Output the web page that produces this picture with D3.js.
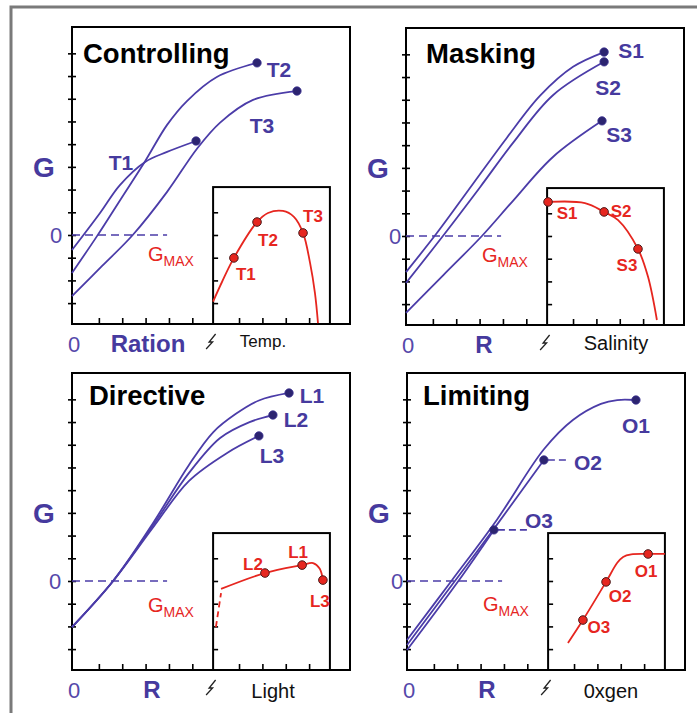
<!DOCTYPE html>
<html><head><meta charset="utf-8">
<script src="https://cdn.jsdelivr.net/npm/d3@7"></script>
<style>body{margin:0;background:#fff}svg{display:block}</style>
</head><body>
<script>
// ---------- data ----------
const yTickValues = [-3,-2,-1,0,1,2,3,4,5,6,7,8];
const xTickValues = [1.15,2.15,3.15,4.15,5.15];
const insetXTickValues = [7.15,8.15,9.15,10.15];
const insetYTickValues = [-3,-2,-1,0,1];
const panelTitles = ["Controlling","Masking","Directive","Limiting"];
const xAxisLabels = ["Ration","R","R","R"];
const insetAxisLabels = ["Temp.","Salinity","Light","0xgen"];

// Controlling (temperature)
const curveT1 = [[0,-0.66],[1.2,0.97],[2.05,2.2],[3.13,3.22],[4.07,3.66],[5.31,4.14]];
const curveT2 = [[0,-1.67],[1.07,-0.05],[2.1,1.6],[3.13,3.25],[4.07,4.85],[4.92,5.9],[6.2,6.96],[7.92,7.58]];
const curveT3 = [[0,-2.69],[1.3,-1.35],[2.6,0],[4.07,1.9],[5.35,3.8],[6.34,4.95],[7.75,5.95],[9.63,6.34]];
const tempCurve = [[6.04,-2.93],[6.42,-2.07],[6.93,-1.01],[7.92,0.57],[8.39,0.97],[9.03,1.06],[9.5,0.8],[9.89,0.09],[10.19,-1.23],[10.4,-2.56],[10.53,-3.88]];
const tempPoints = [[6.93,-1.01],[7.92,0.57],[9.89,0.09]];
const tempNames = ["T1","T2","T3"];

// Masking (salinity)
const curveS1 = [[0,-1.59],[1.33,0.14],[2.87,2.3],[4.32,4.33],[5.74,6.18],[7.15,7.45],[8.48,8.1]];
const curveS2 = [[0,-2.07],[1.58,0],[3.17,2.15],[4.58,4.1],[6.29,6.2],[8.48,7.67]];
const curveS3 = [[0,-3.39],[1.6,-1.72],[3.25,0],[4.58,1.55],[6.29,3.48],[8.39,5.07]];
const salinityCurve = [[6.08,1.5],[7.66,1.45],[8.48,1.06],[9.08,0.7],[9.93,-0.57],[10.36,-1.8],[10.74,-3.7]];
const salinityPoints = [[6.08,1.5],[8.48,1.06],[9.93,-0.57]];
const salinityNames = ["S1","S2","S3"];

// Directive (light)
const curveL1 = [[0,-2.03],[1.76,0],[3.5,2.6],[5,5.1],[6.04,6.55],[7.0,7.35],[8.0,7.95],[9.29,8.28]];
const curveL2 = [[0,-2.03],[1.76,0],[3.5,2.5],[5,4.75],[6.34,6.3],[7.6,7.0],[8.6,7.31]];
const curveL3 = [[0,-2.03],[1.76,0],[3.5,2.4],[5,4.4],[6.64,5.64],[8.0,6.39]];
const lightDashed = [[6.16,-2.03],[6.38,-0.53]];
const lightCurve = [[6.38,-0.35],[8.26,0.35],[9.85,0.7],[10.32,0.79],[10.6,0.55],[10.74,0.04]];
const lightPoints = [[8.26,0.35],[9.85,0.7],[10.74,0.04]];
const lightNames = ["L2","L1","L3"];

// Limiting (oxygen)
const curveO1 = [[0,-2.6],[1.9,0],[3.85,2.7],[5.86,5.8],[7.1,7.09],[8.3,7.8],[9.0,7.97],[9.8,7.97]];
const curveO2 = [[0,-2.82],[2.05,0],[3.9,2.55],[5.86,5.33]];
const curveO3 = [[0,-3.04],[2.2,0],[3.72,2.25]];
const oxygenCurve = [[6.89,-2.73],[7.53,-1.72],[8.52,-0.04],[9.0,0.8],[9.25,1.06],[9.6,1.17],[10.32,1.19],[11.04,1.19]];
const oxygenPoints = [[10.32,1.19],[8.52,-0.04],[7.53,-1.72]];
const oxygenNames = ["O1","O2","O3"];

// ---------- layout ----------
const W = 697, H = 713;
const PW = 278, PH = 297;
const purple = "#4b3ca8", purpleText = "#463a9e", dotFill = "#2c2470";
const red = "#e6261f";
const font = "'Liberation Sans', Arial, Helvetica, sans-serif";

const panels = [
  { ox:72, oy:27, title:panelTitles[0], tx:11, ty:36, xlab:xAxisLabels[0], xlabX:76, ilab:insetAxisLabels[0], ilabX:191, ilabY:320, ilabSize:17, zeroX:-16, gmaxY:234,
    curves:[
      {d:curveT1, name:"T1", lab:[-75,29]},
      {d:curveT2, name:"T2", lab:[22,14]},
      {d:curveT3, name:"T3", lab:[-35,42]} ],
    inset:tempCurve, ipts:tempPoints, inames:tempNames, ilabs:[[12,22],[11,24],[10,-11]] },
  { ox:406, oy:28, title:panelTitles[1], tx:20, ty:35, xlab:xAxisLabels[1], xlabX:78, ilab:insetAxisLabels[1], ilabX:210, ilabY:322, ilabSize:20, zeroX:-11, gmaxY:234,
    curves:[
      {d:curveS1, name:"S1", lab:[27,6]},
      {d:curveS2, name:"S2", lab:[4,33]},
      {d:curveS3, name:"S3", lab:[17,21]} ],
    inset:salinityCurve, ipts:salinityPoints, inames:salinityNames, ilabs:[[19,17],[17,5],[-11,22]] },
  { ox:72, oy:373, title:panelTitles[2], tx:17, ty:32, xlab:xAxisLabels[2], xlabX:80, ilab:insetAxisLabels[2], ilabX:201, ilabY:325, ilabSize:20, zeroX:-17, gmaxY:239,
    curves:[
      {d:curveL1, name:"L1", lab:[23,10]},
      {d:curveL2, name:"L2", lab:[23,12]},
      {d:curveL3, name:"L3", lab:[13,27]} ],
    inset:lightCurve, idash:lightDashed, ipts:lightPoints, inames:lightNames, ilabs:[[-12,-3],[-4,-7],[-3,27]] },
  { ox:407, oy:373, title:panelTitles[3], tx:16, ty:32, xlab:xAxisLabels[3], xlabX:80, ilab:insetAxisLabels[3], ilabX:204, ilabY:325, ilabSize:20, zeroX:-10, gmaxY:238,
    curves:[
      {d:curveO1, name:"O1", lab:[0,33]},
      {d:curveO2, name:"O2", lab:[44,10], dash:[4,26]},
      {d:curveO3, name:"O3", lab:[45,-2], dash:[4,34]} ],
    inset:oxygenCurve, ipts:oxygenPoints, inames:oxygenNames, ilabs:[[-2,23],[14,20],[16,13]] }
];

const svg = d3.select("body").append("svg").attr("width", W).attr("height", H)
  .style("font-family", font);
svg.append("rect").attr("width", W).attr("height", H).attr("fill", "#fff");

// outer grey frame
svg.append("path").attr("d", `M11,${H} L11,7 L${W},7`).attr("fill","none")
  .attr("stroke","#7a7a7a").attr("stroke-width",3);

const x = d3.scaleLinear().domain([0, 11.9]).range([0, PW]);
const y = d3.scaleLinear().domain([-3.92, 9.16]).range([PH, 0]);
const insetX0 = 6.04, insetX1 = 11.04, insetYTop = 2.11;

const line = d3.line().x(d => x(d[0])).y(d => y(d[1])).curve(d3.curveCatmullRom.alpha(0.5));
const straight = d3.line().x(d => x(d[0])).y(d => y(d[1]));

function styleAxis(g){
  g.select(".domain").remove();
  g.selectAll(".tick line").attr("stroke","#000").attr("stroke-width",1.6);
}

panels.forEach(p => {
  const g = svg.append("g").attr("transform", `translate(${p.ox},${p.oy})`);

  // main ticks (crossing left axis, inward on bottom axis)
  g.append("g").call(d3.axisLeft(y).tickValues(yTickValues).tickSize(4).tickFormat("")).call(styleAxis);
  g.append("g").call(d3.axisRight(y).tickValues(yTickValues).tickSize(4).tickFormat("")).call(styleAxis);
  g.append("g").attr("transform", `translate(0,${PH})`)
    .call(d3.axisTop(x).tickValues(xTickValues).tickSize(6).tickFormat("")).call(styleAxis);

  // frame
  g.append("rect").attr("x",0).attr("y",0).attr("width",PW).attr("height",PH)
    .attr("fill","none").attr("stroke","#000").attr("stroke-width",2);

  // zero dashed line
  g.append("line").attr("x1", x(0)).attr("x2", x(4.07)).attr("y1", y(0)).attr("y2", y(0))
    .attr("stroke", purple).attr("stroke-width",1.6).attr("stroke-dasharray","8,5");

  // main curves
  p.curves.forEach(c => {
    g.append("path").attr("d", line(c.d)).attr("fill","none")
      .attr("stroke", purple).attr("stroke-width",1.8);
    const end = c.d[c.d.length-1];
    const ex = x(end[0]), ey = y(end[1]);
    if (c.dash) {
      g.append("line").attr("x1", ex + c.dash[0]).attr("x2", ex + c.dash[1])
        .attr("y1", ey).attr("y2", ey).attr("stroke", purple).attr("stroke-width",1.6)
        .attr("stroke-dasharray","7,4");
    }
    g.append("circle").attr("cx", ex).attr("cy", ey).attr("r", 4.2)
      .attr("fill", dotFill).attr("stroke", "#3a3090").attr("stroke-width",0.8);
    g.append("text").attr("x", ex + c.lab[0]).attr("y", ey + c.lab[1])
      .attr("text-anchor","middle").attr("font-weight","bold").attr("font-size",21)
      .attr("fill", purpleText).text(c.name);
  });

  // inset box
  const ix0 = x(insetX0), ix1 = x(insetX1), iy0 = y(insetYTop);
  g.append("rect").attr("x", ix0).attr("y", iy0).attr("width", ix1 - ix0).attr("height", PH - iy0)
    .attr("fill","#fff").attr("stroke","#000").attr("stroke-width",2);
  g.append("g").attr("transform", `translate(${ix0},0)`)
    .call(d3.axisRight(y).tickValues(insetYTickValues).tickSize(5).tickFormat("")).call(styleAxis);
  g.append("g").attr("transform", `translate(0,${PH})`)
    .call(d3.axisTop(x).tickValues(insetXTickValues).tickSize(6).tickFormat("")).call(styleAxis);

  // inset curve
  if (p.idash) {
    g.append("path").attr("d", straight(p.idash)).attr("fill","none")
      .attr("stroke", red).attr("stroke-width",1.8).attr("stroke-dasharray","6,4");
  }
  g.append("path").attr("d", line(p.inset)).attr("fill","none")
    .attr("stroke", red).attr("stroke-width",1.8);
  p.ipts.forEach((pt, i) => {
    const cx = x(pt[0]), cy = y(pt[1]);
    g.append("circle").attr("cx", cx).attr("cy", cy).attr("r", 4.3)
      .attr("fill", red).attr("stroke","#4a1a1a").attr("stroke-width",1);
    g.append("text").attr("x", cx + p.ilabs[i][0]).attr("y", cy + p.ilabs[i][1])
      .attr("text-anchor","middle").attr("font-weight","bold").attr("font-size",17)
      .attr("fill", red).text(p.inames[i]);
  });

  // break symbol under inset axis
  const bx = ix0 - 2, by = PH + 17;
  g.append("path").attr("d", `M${bx-5},${by+8} L${bx+1.5},${by+1} L${bx-2},${by+1} L${bx+4.5},${by-7}`)
    .attr("fill","none").attr("stroke","#222").attr("stroke-width",1.3);

  // title
  g.append("text").attr("x", p.tx).attr("y", p.ty).attr("font-weight","bold")
    .attr("font-size",27.5).attr("fill","#000").text(p.title);

  // G axis label, zero labels
  g.append("text").attr("x", -28).attr("y", 150).attr("text-anchor","middle")
    .attr("font-weight","bold").attr("font-size",28).attr("fill", purpleText).text("G");
  g.append("text").attr("x", p.zeroX).attr("y", y(0) + 8).attr("text-anchor","middle")
    .attr("font-size",22).attr("fill", "#5548aa").text("0");
  g.append("text").attr("x", 2).attr("y", 325).attr("text-anchor","middle")
    .attr("font-size",22).attr("fill", "#5548aa").text("0");
  g.append("text").attr("x", p.xlabX).attr("y", 325).attr("text-anchor","middle")
    .attr("font-weight","bold").attr("font-size",24).attr("fill", purpleText).text(p.xlab);
  g.append("text").attr("x", p.ilabX).attr("y", p.ilabY).attr("text-anchor","middle")
    .attr("font-size", p.ilabSize).attr("fill","#111").text(p.ilab);

  // G_MAX
  const gm = g.append("text").attr("x", 76).attr("y", p.gmaxY).attr("fill", red);
  gm.append("tspan").attr("font-size",20).text("G");
  gm.append("tspan").attr("font-size",14).attr("dy",5).text("MAX");
});
</script>
</body></html>
